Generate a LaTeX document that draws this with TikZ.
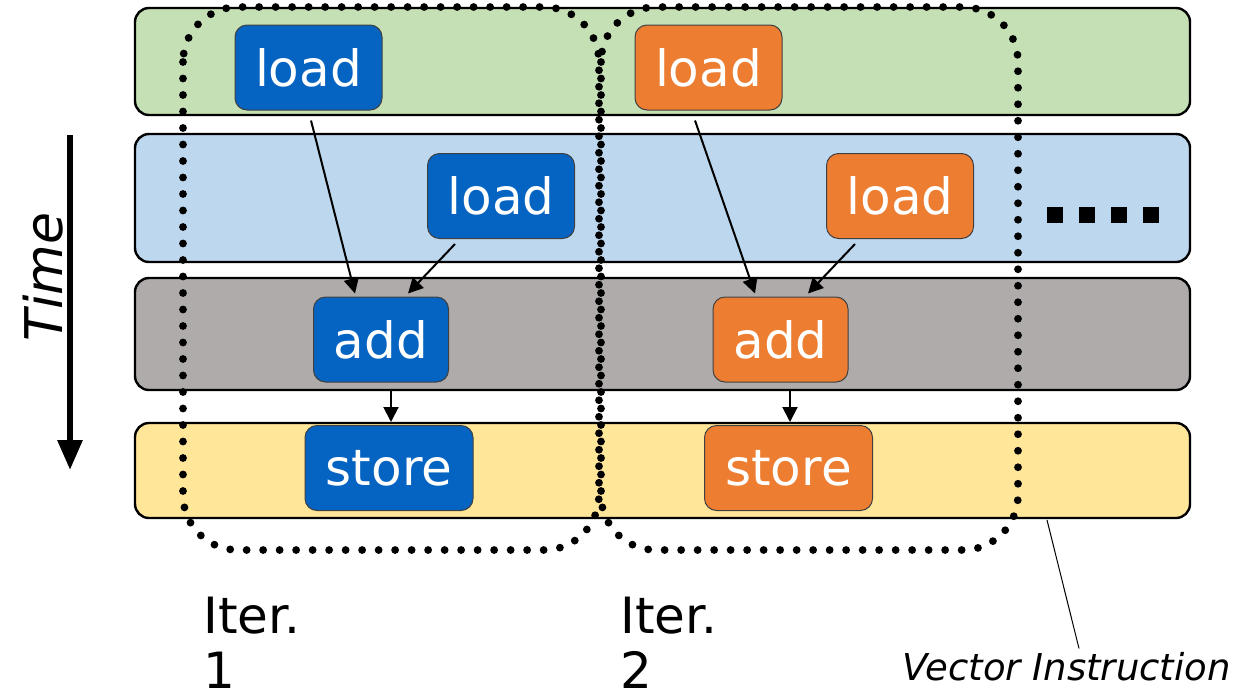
\documentclass[tikz,border=0pt]{standalone}
\usepackage{fontspec}
\setmainfont{DejaVu Sans}
\usetikzlibrary{arrows.meta,calc}
\definecolor{lgreen}{HTML}{C5E0B4}
\definecolor{lblue}{HTML}{BDD7EE}
\definecolor{lgray}{HTML}{AFABAB}
\definecolor{lyellow}{HTML}{FFE699}
\definecolor{vblue}{HTML}{0563C1}
\definecolor{vorange}{HTML}{ED7D31}
\begin{document}
\begin{tikzpicture}[x=0.5pt,y=-0.5pt,
  lane/.style={draw=black, line width=1.2pt, rounded corners=7pt},
  op/.style={draw=black!75, line width=0.5pt, rounded corners=6pt, text=white,
    font=\fontsize{25}{30}\selectfont, inner sep=0pt},
  loadbox/.style={op, minimum width=73.5pt, minimum height=42.5pt},
  addbox/.style={op, minimum width=67.5pt, minimum height=42.5pt},
  storebox/.style={op, minimum width=84pt, minimum height=42.5pt},
  arr/.style={-{Triangle[width=7.5pt,length=7.5pt]}, line width=1pt},
  dotbox/.style={line width=3.9pt, dash pattern=on 0pt off 8.25pt, line cap=round, rounded corners=27.5pt},
  lbl/.style={font=\fontsize{25}{27.5}\selectfont, inner sep=0pt}
]
\useasboundingbox (0,0) rectangle (1251,691);
% lanes
\draw[lane, fill=lgreen]  (135,8)   rectangle (1190,115);
\draw[lane, fill=lblue]   (135,134) rectangle (1190,262);
\draw[lane, fill=lgray]   (135,278) rectangle (1190,390);
\draw[lane, fill=lyellow] (135,423) rectangle (1190,518);
% iteration 1 (blue)
\node[loadbox, fill=vblue]  (l1) at (308.5,67.5) {load};
\node[loadbox, fill=vblue]  (l2) at (501,196) {load};
\node[addbox, fill=vblue]   (a1) at (381,339.5) {add};
\node[storebox, fill=vblue] (s1) at (389,468) {store};
% iteration 2 (orange)
\node[loadbox, fill=vorange]  (l3) at (708.5,67.5) {load};
\node[loadbox, fill=vorange]  (l4) at (900,196) {load};
\node[addbox, fill=vorange]   (a2) at (780.5,339.5) {add};
\node[storebox, fill=vorange] (s2) at (788.5,468) {store};
% dotted iteration boxes
\draw[dotbox] (183,7) rectangle (599,550);
\draw[dotbox] (601,7) rectangle (1018,550);
% arrows
\draw[arr] ($(l1.south)+(2.5,10)$) -- ($(a1.north)+(-26,-3)$);
\draw[arr] ($(l2.south)+(-46,5)$) -- ($(a1.north)+(27,-3)$);
\draw[arr] ($(a1.south)+(10,8)$) -- ($(s1.north)+(2,-3)$);
\draw[arr] ($(l3.south)+(-13.5,10)$) -- ($(a2.north)+(-25.5,-3)$);
\draw[arr] ($(l4.south)+(-45,5)$) -- ($(a2.north)+(27.5,-3)$);
\draw[arr] ($(a2.south)+(9.5,8)$) -- ($(s2.north)+(1.5,-3)$);
% more squares
\foreach \x in {1055,1087,1119,1151}
  \fill (\x-8,206.5) rectangle (\x+8,222.5);
% time arrow
\coordinate (t0) at (70,135);
\coordinate (t1) at (70,470);
\draw[line width=3pt, -{Triangle[width=12pt,length=15pt]}] (t0) -- (t1);
\node[rotate=90, font=\itshape\fontsize{26}{30}\selectfont, inner sep=0pt] (time) at (43,277) {Time};
% iteration labels
\node[lbl, anchor=north west, align=left] (it1) at (203,597) {Iter.\\1};
\node[lbl, anchor=north west, align=left] (it2) at (620,597) {Iter.\\2};
% vector instruction label
\node[font=\itshape\fontsize{18.5}{22}\selectfont, inner sep=0pt, anchor=base west] (vi) at (902,680) {Vector Instruction};
\coordinate (vp) at (1047,520);
\draw[line width=0.5pt] (vp) -- ($(vi.north west)+(177,-3)$);
\end{tikzpicture}
\end{document}
